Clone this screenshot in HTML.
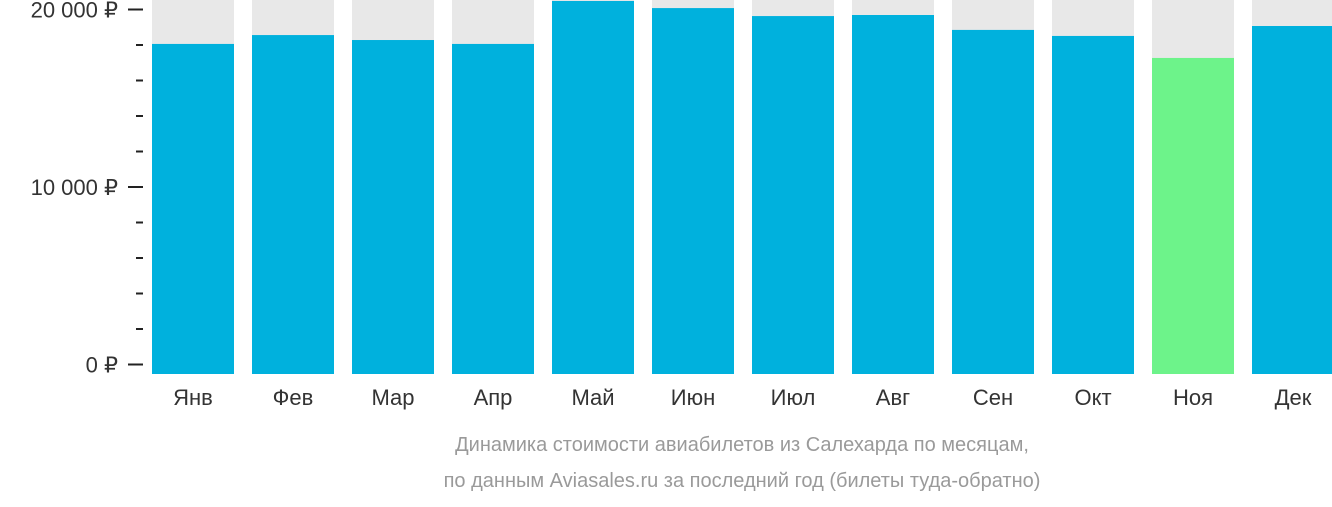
<!DOCTYPE html>
<html><head><meta charset="utf-8"><style>
body{margin:0;background:#fff;font-family:"Liberation Sans",sans-serif;}
svg text{font-family:"Liberation Sans",sans-serif;}
</style></head><body>
<svg width="1332" height="502" xmlns="http://www.w3.org/2000/svg">
<g id="g"></g>
<text x="742" y="451" text-anchor="middle" font-size="20" fill="#9a9a9a">Динамика стоимости авиабилетов из Салехарда по месяцам,</text>
<text x="742" y="487" text-anchor="middle" font-size="20" fill="#9a9a9a">по данным Aviasales.ru за последний год (билеты туда-обратно)</text>
</svg>
<script>
const months=["Янв","Фев","Мар","Апр","Май","Июн","Июл","Авг","Сен","Окт","Ноя","Дек"];
const prices=[18060,18560,18280,18060,20480,20080,19630,19690,18850,18510,17270,19070];
const highlight=[false,false,false,false,false,false,false,false,false,false,true,false];
const tickValues=[0,10000,20000];
const tickLabels=["0 ₽","10 000 ₽","20 000 ₽"];
const NS="http://www.w3.org/2000/svg";
const g=document.getElementById('g');
function y(v){return 364.5-v*0.01775;}
function x(i){return 152+i*100;}
function mk(t,a){const e=document.createElementNS(NS,t);for(const k in a)e.setAttribute(k,a[k]);g.appendChild(e);return e;}
prices.forEach((p,i)=>{
 const bg=mk('rect',{x:x(i),y:0,width:82,height:374,fill:'#e8e8e8'});
 
 
 const b=mk('rect',{x:x(i),y:y(p),width:82,height:374-y(p),fill:highlight[i]?'#6df38a':'#00b1dd'});
 
 
 const t=mk('text',{x:x(i)+41,y:405,'text-anchor':'middle','font-size':22,fill:'#333'});
 t.textContent=months[i];
 
 
});
for(let k=0;k<=20;k+=2){
 const v=k*1000;
 const major=k%10===0;
 const l=mk('rect',{x:major?128:136,y:y(v)-1,width:major?15:7,height:2,fill:'#222'});
 
 
}
tickValues.forEach((v,i)=>{
 const t=mk('text',{x:118,y:y(v)+8,'text-anchor':'end','font-size':22,fill:'#333'});
 t.textContent=tickLabels[i];
 
 
});
</script>
</body></html>
